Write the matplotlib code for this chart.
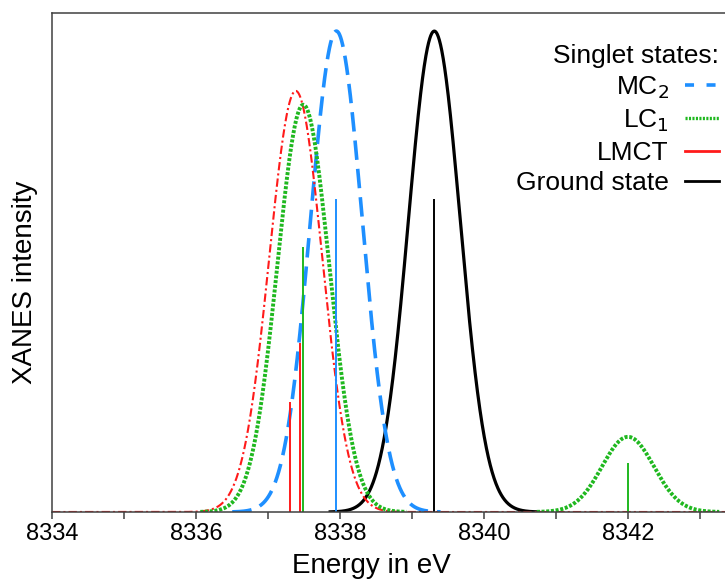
import numpy as np
import matplotlib
matplotlib.use("Agg")
import matplotlib.pyplot as plt
from matplotlib.lines import Line2D

plt.rcParams['font.family'] = ['Liberation Sans', 'DejaVu Sans']
plt.rcParams['lines.scale_dashes'] = False

# stick spectra (energy in eV, intensity)
mc2_e = [8337.95]
mc2_i = [0.627]
lc1_e = [8337.49, 8342.00]
lc1_i = [0.531, 0.098]
lmct_e = [8337.30, 8337.44]
lmct_i = [0.220, 0.339]
gs_e = [8339.31]
gs_i = [0.627]

tick_vals = list(range(8334, 8344))
tick_labels = ['8334', '', '8336', '', '8338', '', '8340', '', '8342', '']

sigma = 0.36      # gaussian broadening (eV)
scale = 1.537     # curve height / stick height
cut = 3e-4        # tails below this are not drawn

blue = '#1e8fff'
green = '#1fb81f'
red = '#ff1a1a'
spine_col = '#404040'

E = np.linspace(8334, 8344, 3001)


def broaden(energies, ints):
    y = np.zeros_like(E)
    for e0, a in zip(energies, ints):
        y += a * np.exp(-(E - e0) ** 2 / (2 * sigma ** 2))
    return y * scale


def trim(y):
    y = y.copy()
    y[y < cut] = np.nan
    return y


fig = plt.figure(figsize=(7.25, 5.79), dpi=100)
ax = fig.add_axes([52 / 725, 67 / 579, 720 / 725, 499 / 579])

# broadened curves
ax.plot(E, trim(broaden(gs_e, gs_i)), color='black', lw=2.3)
ax.plot(E, trim(broaden(mc2_e, mc2_i)), color=blue, lw=2.6, dashes=(14, 6.5))
ax.plot(E, broaden(lmct_e, lmct_i), color=red, lw=1.5, dashes=(6, 2.2, 1.5, 2.2))
ax.plot(E, trim(broaden(lc1_e, lc1_i)), color=green, lw=2.8, dashes=(2.2, 1.2))

# sticks
ax.vlines(gs_e, 0, gs_i, color='black', lw=1.4)
ax.vlines(mc2_e, 0, mc2_i, color=blue, lw=1.4)
ax.vlines(lmct_e, 0, lmct_i, color=red, lw=1.4)
ax.vlines(lc1_e, 0, lc1_i, color=green, lw=1.4)

ax.set_xlim(8334, 8344)
ax.set_ylim(0, 1)
ax.set_xticks(tick_vals)
ax.set_xticklabels(tick_labels)
ax.set_yticks([])
ax.tick_params(axis='x', direction='out', length=5, width=1.1, color=spine_col,
               labelsize=17, pad=3)
for s in ax.spines.values():
    s.set_color(spine_col)
    s.set_linewidth(1.1)

ax.set_xlabel('Energy in eV', fontsize=20)
ax.xaxis.set_label_coords(0.443, -0.083)
ax.set_ylabel('XANES intensity', fontsize=20)
ax.yaxis.set_label_coords(-0.02, 0.46)

handles = [
    Line2D([], [], color=blue, lw=2.6, dashes=(6.5, 9)),
    Line2D([], [], color=green, lw=2.4, dashes=(1.5, 1.0)),
    Line2D([], [], color=red, lw=2.0),
    Line2D([], [], color='black', lw=2.0),
]
labels = ['MC$_2$', 'LC$_1$', 'LMCT', 'Ground state']
ax.legend(handles, labels, title='Singlet states:', title_fontsize=19,
          fontsize=19, frameon=False, markerfirst=False, alignment='right',
          loc='upper right', bbox_to_anchor=(719 / 725, 1 - 44 / 579),
          bbox_transform=fig.transFigure, borderpad=0, borderaxespad=0,
          handlelength=1.3, handletextpad=0.6, labelspacing=0.25)

fig.savefig('out.png', dpi=100)
